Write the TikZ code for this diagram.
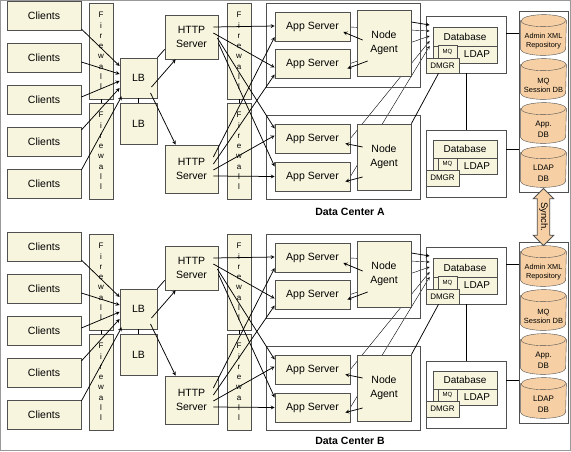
\documentclass[tikz,border=0pt]{standalone}
\usepackage{fontspec}
\setmainfont{Liberation Sans}
\usetikzlibrary{positioning, arrows, backgrounds, calc, shapes.arrows}

\definecolor{cream}{RGB}{247,245,222}
\definecolor{peach}{RGB}{246,208,164}
\definecolor{edge}{RGB}{80,80,80}

\begin{document}
\begin{tikzpicture}[x=1pt, y=-1pt, line width=0.75pt]
\tikzstyle{box}=[draw=edge, fill=cream, rectangle, inner sep=1pt, align=center, font=\fontsize{10.5}{14}\selectfont]
\tikzstyle{frame}=[draw=edge, rectangle, inner sep=0pt]
\tikzstyle{client}=[box, minimum width=74pt, minimum height=29pt]
\tikzstyle{wall}=[box, minimum width=24pt, minimum height=96pt, font=\fontsize{8}{10.3}\selectfont]
\tikzstyle{lb}=[box, minimum width=37pt, minimum height=40pt]
\tikzstyle{web}=[box, minimum width=53pt, minimum height=44pt]
\tikzstyle{app}=[box, minimum width=75pt, minimum height=29pt]
\tikzstyle{agent}=[box, minimum width=54pt, minimum height=66pt]
\tikzstyle{dbpart}=[box, inner sep=0pt, font=\fontsize{10}{11}\selectfont]
\tikzstyle{tiny}=[box, inner sep=0pt, font=\fontsize{6}{7}\selectfont]
\tikzstyle{store}=[rectangle, minimum width=45pt, minimum height=28pt, align=center, inner sep=0pt]
\tikzstyle{link}=[draw, ->, >=stealth]
\tikzstyle{wire}=[draw]

\useasboundingbox (0,0) rectangle (571,451);
\draw[draw=gray!80] (0.5,0.5) rectangle (570.5,450.5);

\foreach \dc/\dy/\lbl/\ly in {a/0/A/212, b/231/B/441} {
  % left side: clients, firewalls, balancers
  \foreach \i/\y in {1/16, 2/58, 3/100, 4/142, 5/184}
    \node[client] (c\i\dc) at (44, \y+\dy) {Clients};
  \node[wall] (fw1\dc) at (101, 51+\dy) {F\\i\\r\\e\\w\\a\\l\\l};
  \node[wall] (fw2\dc) at (101, 151+\dy) {F\\i\\r\\e\\w\\a\\l\\l};
  \node[lb] (lb1\dc) at (138.5, 78+\dy) {LB};
  \node[lb, minimum height=41pt] (lb2\dc) at (138.5, 123.5+\dy) {LB};
  \node[web] (http1\dc) at (191.5, 37+\dy) {HTTP\\Server};
  \node[web, minimum height=48pt] (http2\dc) at (191.5, 169+\dy) {HTTP\\Server};
  \node[wall] (fw3\dc) at (239, 51+\dy) {F\\i\\r\\e\\w\\a\\l\\l};
  \node[wall] (fw4\dc) at (239, 151+\dy) {F\\i\\r\\e\\w\\a\\l\\l};

  % clusters
  \node[frame, minimum width=154pt, minimum height=84pt] (cl1\dc) at (343, 45+\dy) {};
  \node[frame, minimum width=154pt, minimum height=84pt] (cl2\dc) at (343, 157+\dy) {};
  \node[app] (app1\dc) at (312.5, 27+\dy) {App Server};
  \node[app] (app2\dc) at (312.5, 63.5+\dy) {App Server};
  \node[app] (app3\dc) at (312.5, 138.5+\dy) {App Server};
  \node[app] (app4\dc) at (312.5, 176.5+\dy) {App Server};
  \node[agent] (na1\dc) at (384, 43+\dy) {Node\\Agent};
  \node[agent] (na2\dc) at (384, 157+\dy) {Node\\Agent};

  % database groups
  \node[frame, minimum width=80pt, minimum height=57pt] (grp1\dc) at (466, 44.5+\dy) {};
  \node[box, minimum width=64pt, minimum height=36pt] (back1\dc) at (465, 45+\dy) {};
  \node[dbpart, minimum width=64pt, minimum height=19pt] (db1\dc) at (465, 36.5+\dy) {Database};
  \node[dbpart, minimum width=40pt, minimum height=17pt] (ldap1\dc) at (477, 54.5+\dy) {LDAP};
  \node[tiny, minimum width=19pt, minimum height=13pt] (mq1\dc) at (447.5, 51.5+\dy) {MQ};
  \node[tiny, minimum width=33pt, minimum height=15pt, font=\fontsize{8}{9}\selectfont] (dmgr1\dc) at (442.5, 65.5+\dy) {DMGR};

  \node[frame, minimum width=80pt, minimum height=67pt] (grp2\dc) at (466, 163.5+\dy) {};
  \node[box, minimum width=64pt, minimum height=34pt] (back2\dc) at (465, 157+\dy) {};
  \node[dbpart, minimum width=64pt, minimum height=18pt] (db2\dc) at (465, 149+\dy) {Database};
  \node[dbpart, minimum width=40pt, minimum height=16pt] (ldap2\dc) at (477, 166+\dy) {LDAP};
  \node[tiny, minimum width=19pt, minimum height=12pt] (mq2\dc) at (447.5, 164+\dy) {MQ};
  \node[tiny, minimum width=33pt, minimum height=16pt, font=\fontsize{8}{9}\selectfont] (dmgr2\dc) at (442.5, 178+\dy) {DMGR};

  % shared stores
  \node[frame, minimum width=49pt, minimum height=181pt] (col\dc) at (543.5, 101.5+\dy) {};
  \node[store, font=\fontsize{7.3}{8.5}\selectfont] (st1\dc) at (543.5, 41+\dy) {Admin XML\\Repository};
  \node[store, font=\fontsize{7.5}{9}\selectfont] (st2\dc) at (543.5, 85+\dy) {MQ\\Session DB};
  \node[store, font=\fontsize{8}{11}\selectfont] (st3\dc) at (543.5, 129+\dy) {App.\\DB};
  \node[store, font=\fontsize{8}{11}\selectfont] (st4\dc) at (543.5, 173+\dy) {LDAP\\DB};
  \begin{scope}[on background layer]
    \foreach \s in {1,...,4} {
      \path[draw=edge, fill=peach] ($(st\s\dc.north west)+(0,-6)$) -- ($(st\s\dc.south west)+(0,-6)$)
        arc[start angle=180, end angle=360, x radius=22.5pt, y radius=6pt]
        -- ($(st\s\dc.north east)+(0,-6)$)
        arc[start angle=0, end angle=180, x radius=22.5pt, y radius=6pt] -- cycle;
      \path[draw=edge] ($(st\s\dc.north west)+(0,-6)$) arc[start angle=180, end angle=360, x radius=22.5pt, y radius=6pt];
    }
  \end{scope}

  \node[font=\bfseries\fontsize{10.5}{12}\selectfont] (title\dc) at (350, \ly) {Data Center \lbl};

  % small joins
  \path[wire] (fw1\dc.south) -- (fw2\dc.north);
  \path[wire] (fw3\dc.south) -- (fw4\dc.north);
  \path[wire] (lb1\dc.south) -- (lb2\dc.north);
  \path[wire] (lb1\dc.north east) -- ($(http1\dc.south west)+(0,-10)$);
  \path[wire] (grp1\dc.south) -- (grp2\dc.north);
  \path[wire] ([yshift=11pt]grp1\dc.east) -- ([yshift=11pt]grp1\dc.east -| col\dc.west);
  \path[wire] ([yshift=14pt]grp2\dc.east) -- ([yshift=14pt]grp2\dc.east -| col\dc.west);

  % clients to balancer
  \path[link] ($(c1\dc.east)+(0,13)$) -- ($(lb1\dc.west)+(0,-12)$);
  \path[link] ($(c2\dc.east)+(0,4)$) -- ($(lb1\dc.west)+(0,-4)$);
  \path[link] ($(c3\dc.east)+(0,-3)$) -- ($(lb1\dc.west)+(0,3)$);
  \path[link] ($(c4\dc.east)+(0,-12)$) -- ($(lb1\dc.west)+(0,10)$);
  \path[link] ($(c5\dc.east)+(0,-14)$) -- ($(lb1\dc.south west)+(2,-2)$);

  % balancer to web servers
  \path[link] ($(lb1\dc.center)+(13,9)$) -- ($(http1\dc.south west)+(11,0)$);
  \path[link] ($(lb1\dc.center)+(12,15)$) -- ($(http2\dc.north west)+(11,0)$);

  % web servers to app servers
  \path[link] ($(http1\dc.east)+(-5,-10)$) -- ($(app1\dc.west)+(0,-1)$);
  \path[link] ($(http1\dc.east)+(-5,-4)$) -- ($(app2\dc.west)+(0,4)$);
  \path[link] ($(http1\dc.east)+(-1,1)$) -- ($(app3\dc.west)+(0,-10)$);
  \path[link] ($(http1\dc.east)+(0,6)$) -- ($(app4\dc.west)+(0,-10)$);
  \path[link] ($(http2\dc.east)+(-5,-12)$) -- ($(app1\dc.west)+(0,10)$);
  \path[link] ($(http2\dc.east)+(-5,-5)$) -- ($(app2\dc.west)+(0,11)$);
  \path[link] ($(http2\dc.east)+(-5,1)$) -- ($(app3\dc.west)+(0,-3)$);
  \path[link] ($(http2\dc.east)+(-5,7)$) -- ($(app4\dc.west)+(0,0)$);

  % node agents to app servers
  \path[link] ($(na1\dc.west)+(6,-3)$) -- ($(app1\dc.east)+(-7,5)$);
  \path[link] ($(na1\dc.west)+(11,18)$) -- ($(app2\dc.east)+(-3,5)$);
  \path[link] ($(na2\dc.west)+(6,-10)$) -- ($(app3\dc.east)+(-5,5)$);
  \path[link] ($(na2\dc.west)+(6,20)$) -- ($(app4\dc.east)+(-5,5)$);

  % to the database
  \path[link] ($(na1\dc.east)+(0,-21)$) -- ($(back1\dc.west)+(-3,-20)$);
  \path[wire] (na2\dc.north east) -- ($(dmgr1\dc.south)+(-4,0)$);
  \begin{scope}[on background layer]
    \path[link] (app1\dc.east) -- ($(back1\dc.west)+(-3,-14)$);
    \path[link] (app2\dc.east) -- ($(back1\dc.west)+(-3,-9)$);
    \path[link] (app3\dc.east) -- ($(back1\dc.west)+(-3,-4)$);
    \path[link] (app4\dc.east) -- ($(back1\dc.west)+(-3,1)$);
  \end{scope}
}

\node[double arrow, draw=edge, fill=peach, rotate=-90, minimum height=57pt, inner sep=1.5pt, double arrow head extend=4pt, font=\fontsize{9.5}{10}\selectfont] (sync) at ($(cola.south)!0.5!(colb.north)$) {Synch.};

\end{tikzpicture}
\end{document}
